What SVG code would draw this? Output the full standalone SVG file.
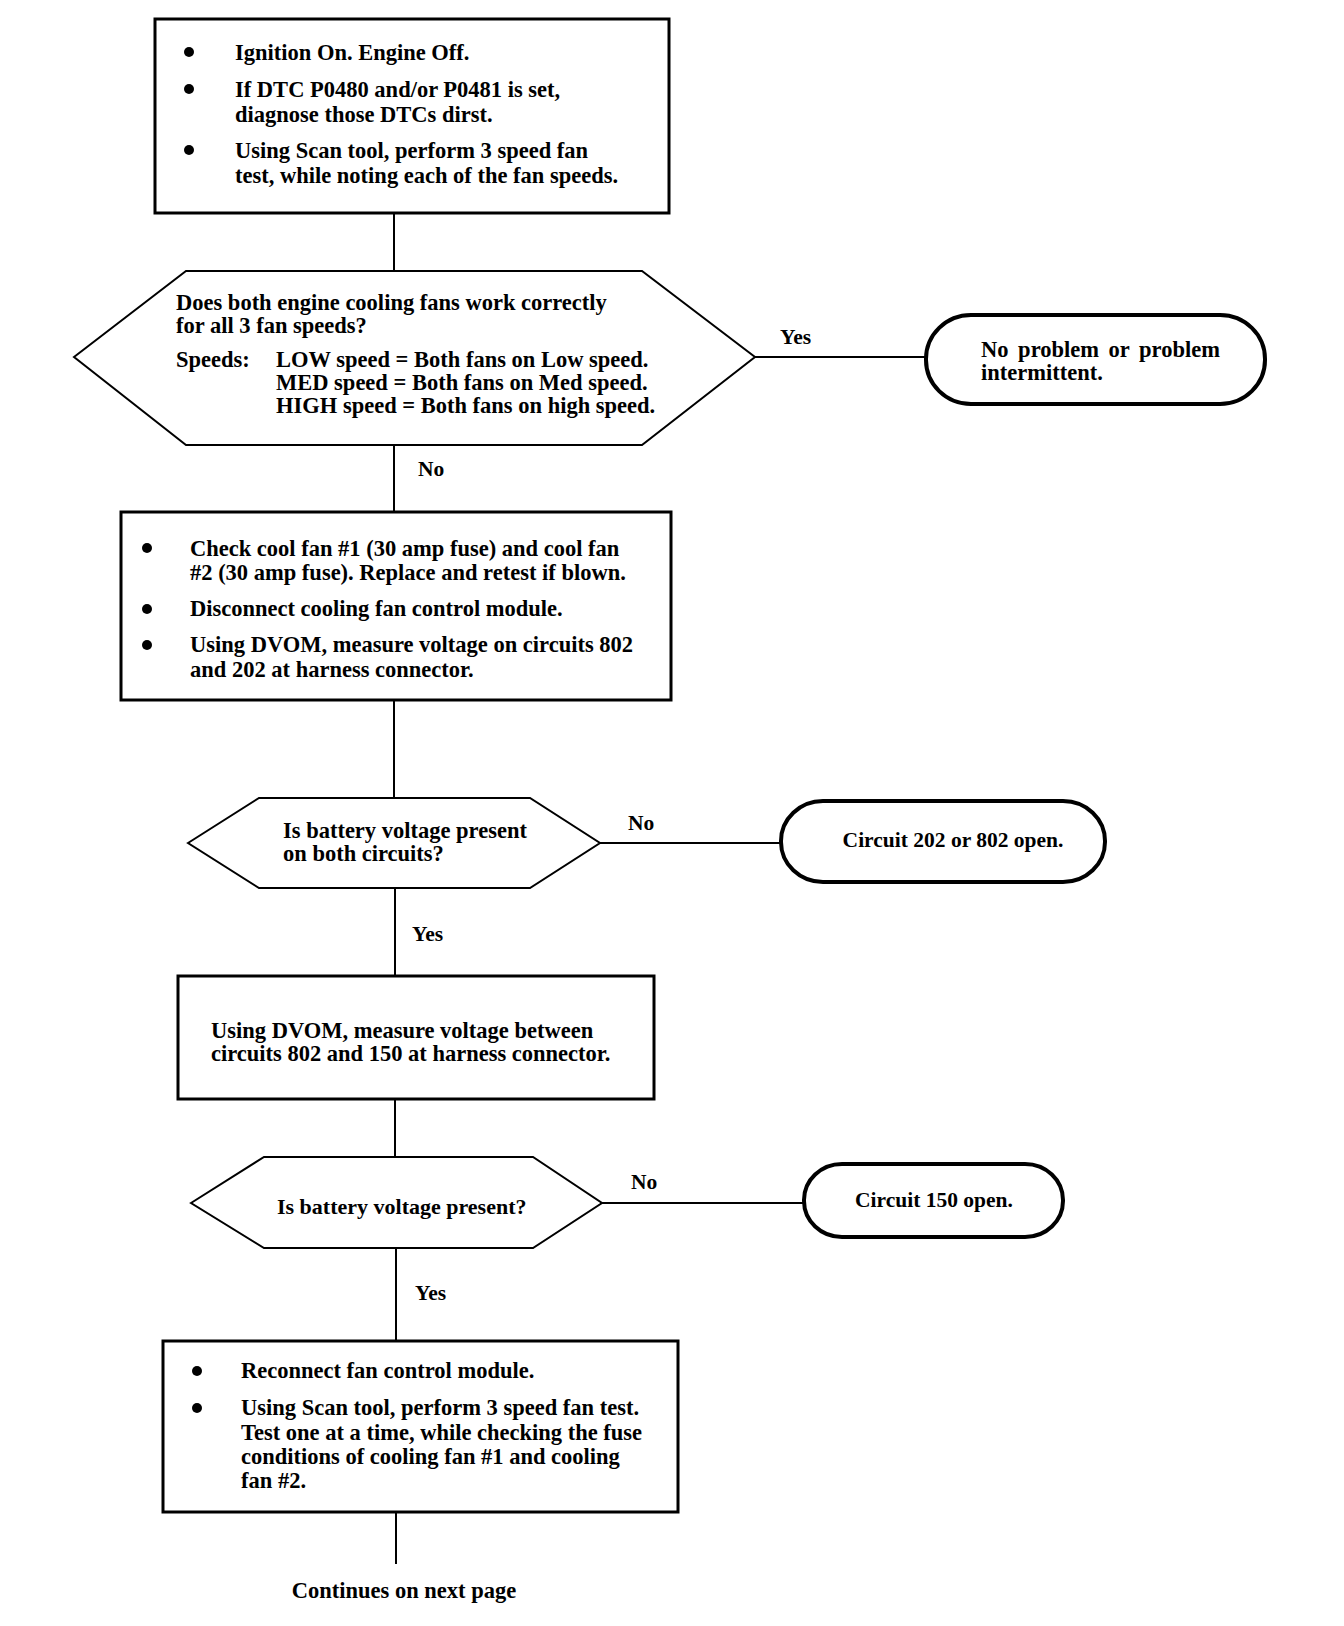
<svg xmlns="http://www.w3.org/2000/svg" width="1344" height="1626" viewBox="0 0 1344 1626">
<style>
text{font-family:"Liberation Serif","Times New Roman",serif;font-size:22.5px;font-weight:bold;fill:#000}
.box{fill:#fff;stroke:#000;stroke-width:3}
.hex{fill:#fff;stroke:#000;stroke-width:2}
.oval{fill:#fff;stroke:#000;stroke-width:4}
.conn line{stroke:#000;stroke-width:2}
.s{font-size:21.5px}
.m{font-size:22px}
</style>
<rect width="1344" height="1626" fill="#fff"/>
<g class="conn" id="connectors">
<line x1="394" y1="213" x2="394" y2="271"/>
<line x1="394" y1="445" x2="394" y2="512"/>
<line x1="755" y1="357" x2="926" y2="357"/>
<line x1="394" y1="700" x2="394" y2="798"/>
<line x1="600" y1="843" x2="781" y2="843"/>
<line x1="395" y1="888" x2="395" y2="976"/>
<line x1="395" y1="1099" x2="395" y2="1157"/>
<line x1="602" y1="1203" x2="804" y2="1203"/>
<line x1="396" y1="1248" x2="396" y2="1341"/>
<line x1="396" y1="1512" x2="396" y2="1564"/>
</g>
<g id="labels" class="s">
<text class="s" x="780" y="344">Yes</text>
<text class="s" x="418" y="476">No</text>
<text class="s" x="628" y="830">No</text>
<text class="s" x="412" y="941">Yes</text>
<text class="s" x="631" y="1189">No</text>
<text class="s" x="415" y="1300">Yes</text>
</g>
<g id="box1">
<rect class="box" x="155" y="19" width="514" height="194"/>
<circle cx="189" cy="52" r="5"/>
<circle cx="189" cy="89" r="5"/>
<circle cx="189" cy="150" r="5"/>
<text x="235" y="60">Ignition On. Engine Off.</text>
<text x="235" y="97">If DTC P0480 and/or P0481 is set,</text>
<text x="235" y="122">diagnose those DTCs dirst.</text>
<text x="235" y="158">Using Scan tool, perform 3 speed fan</text>
<text x="235" y="183">test, while noting each of the fan speeds.</text>
</g>
<g id="decision1">
<polygon class="hex" points="74,357 186,271 642,271 755,357 642,445 186,445"/>
<text x="176" y="310">Does both engine cooling fans work correctly</text>
<text x="176" y="333">for all 3 fan speeds?</text>
<text x="176" y="367">Speeds:</text>
<text x="276" y="367">LOW speed = Both fans on Low speed.</text>
<text x="276" y="390">MED speed = Both fans on Med speed.</text>
<text x="276" y="413">HIGH speed = Both fans on high speed.</text>
</g>
<g id="end1">
<rect class="oval" x="926" y="315" width="339" height="89" rx="45" ry="44"/>
<text x="981" y="357" word-spacing="4">No problem or problem</text>
<text x="981" y="380">intermittent.</text>
</g>
<g id="box2">
<rect class="box" x="121" y="512" width="550" height="188"/>
<circle cx="147" cy="548" r="5"/>
<circle cx="147" cy="609" r="5"/>
<circle cx="147" cy="645" r="5"/>
<text x="190" y="556">Check cool fan #1 (30 amp fuse) and cool fan</text>
<text x="190" y="580">#2 (30 amp fuse). Replace and retest if blown.</text>
<text x="190" y="616">Disconnect cooling fan control module.</text>
<text x="190" y="652">Using DVOM, measure voltage on circuits 802</text>
<text x="190" y="677">and 202 at harness connector.</text>
</g>
<g id="decision2">
<polygon class="hex" points="188,843 259,798 530,798 600,843 530,888 259,888"/>
<text x="283" y="838">Is battery voltage present</text>
<text x="283" y="861">on both circuits?</text>
</g>
<g id="end2">
<rect class="oval" x="781" y="801" width="324" height="81" rx="42" ry="40"/>
<text class="s" x="953" y="847" text-anchor="middle">Circuit 202 or 802 open.</text>
</g>
<g id="box3">
<rect class="box" x="178" y="976" width="476" height="123"/>
<text x="211" y="1038">Using DVOM, measure voltage between</text>
<text x="211" y="1061">circuits 802 and 150 at harness connector.</text>
</g>
<g id="decision3">
<polygon class="hex" points="191,1203 264,1157 533,1157 602,1203 533,1248 264,1248"/>
<text class="m" x="277" y="1214">Is battery voltage present?</text>
</g>
<g id="end3">
<rect class="oval" x="804" y="1164" width="259" height="73" rx="38" ry="36"/>
<text class="s" x="934" y="1207" text-anchor="middle">Circuit 150 open.</text>
</g>
<g id="box4">
<rect class="box" x="163" y="1341" width="515" height="171"/>
<circle cx="197" cy="1371" r="5"/>
<circle cx="197" cy="1408" r="5"/>
<text x="241" y="1378">Reconnect fan control module.</text>
<text x="241" y="1415">Using Scan tool, perform 3 speed fan test.</text>
<text x="241" y="1440">Test one at a time, while checking the fuse</text>
<text x="241" y="1464">conditions of cooling fan #1 and cooling</text>
<text x="241" y="1488">fan #2.</text>
</g>
<g id="footer">
<text x="404" y="1598" text-anchor="middle">Continues on next page</text>
</g>
</svg>
